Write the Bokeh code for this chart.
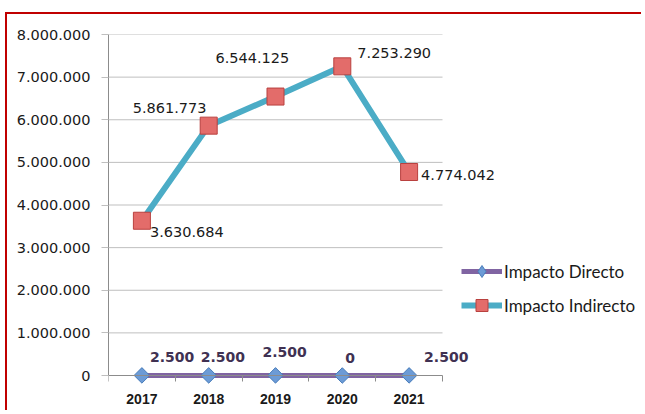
from bokeh.plotting import figure
from bokeh.models import ColumnDataSource, Range1d, FixedTicker, Legend, LegendItem, LinearAxis
from bokeh.core.properties import value
from bokeh.embed import file_html
from bokeh.resources import INLINE
import numpy as np

# ---- data ----
years = ["2017", "2018", "2019", "2020", "2021"]
directo = [2500, 2500, 2500, 0, 2500]
indirecto = [3630684, 5861773, 6544125, 7253290, 4774042]
y_ticks = [0, 1000000, 2000000, 3000000, 4000000, 5000000, 6000000, 7000000, 8000000]
series_names = ["Impacto Directo", "Impacto Indirecto"]


def fmt(v):
    return f"{v:,}".replace(",", ".")


xs = list(range(len(years)))
x_lo, x_hi = -0.5, len(years) - 0.5

# layout (screen px)
W, H = 636, 398
B_LEFT, B_TOP = 101, 20
PLOT_H = 341          # pixels from 0 to top tick
PAD = 12              # extra frame below the zero line so markers are not clipped
B_BOTTOM = H - B_TOP - PLOT_H - PAD
CAT_PX = 66.8
frame_w = W - B_LEFT
x_end = x_lo + frame_w / CAT_PX
y_top = y_ticks[-1]
y_start = y_ticks[0] - PAD * (y_top - y_ticks[0]) / PLOT_H

# label offsets (styling, screen px: left edge / vertical centre relative to point)
dir_dx = [8, -8, -13, 3, 15]
dir_dy = [-18, -18, -23, -18, -18]
ind_dx = [8, -76, -60, 15, 12]
ind_dy = [11, -18, -39, -13, 3]

src_d = ColumnDataSource(dict(x=xs, y=directo, t=[fmt(v) for v in directo], dx=dir_dx, dy=dir_dy))
src_i = ColumnDataSource(dict(x=xs, y=indirecto, t=[fmt(v) for v in indirecto], dx=ind_dx, dy=ind_dy))

p = figure(width=W, height=H, output_backend="svg", toolbar_location=None,
           x_range=Range1d(x_lo, x_end), y_range=Range1d(y_start, y_top),
           min_border_left=B_LEFT, min_border_right=0, min_border_top=B_TOP,
           min_border_bottom=B_BOTTOM)
p.styles = {"border-left": "2px solid #C00000", "border-top": "2px solid #C00000",
            "margin-left": "5px", "margin-top": "12px"}
p.outline_line_color = None
p.background_fill_color = "white"
p.border_fill_color = "white"
p.xgrid.grid_line_color = None
p.ygrid.grid_line_color = None

# horizontal gridlines limited to the category area
grid_y = [t for t in y_ticks if t > 0]
p.segment(x0=[x_lo] * len(grid_y), x1=[x_hi] * len(grid_y), y0=grid_y, y1=grid_y,
          line_color="#BFBFBF", line_width=1)

# y axis
p.yaxis.bounds = (y_ticks[0], y_top)
p.yaxis.ticker = FixedTicker(ticks=y_ticks)
p.yaxis.major_label_overrides = {t: fmt(t) for t in y_ticks}
p.yaxis.axis_line_color = "#8C8C8C"
p.yaxis.major_tick_line_color = "#BFBFBF"
p.yaxis.major_tick_out = 7
p.yaxis.major_tick_in = 0
p.yaxis.minor_tick_line_color = None
p.yaxis.major_label_standoff = 11
p.yaxis.major_label_text_font = "DejaVu Sans"
p.yaxis.major_label_text_font_size = "14.5px"
p.yaxis.major_label_text_color = "#1A1A1A"

# x axis labels (bottom panel)
p.xaxis.ticker = FixedTicker(ticks=xs)
p.xaxis.major_label_overrides = {i: y for i, y in enumerate(years)}
p.xaxis.axis_line_color = None
p.xaxis.major_tick_line_color = None
p.xaxis.minor_tick_line_color = None
p.xaxis.major_tick_out = 0
p.xaxis.major_tick_in = 0
p.xaxis.major_label_standoff = 6
p.xaxis.major_label_text_font = "Liberation Sans"
p.xaxis.major_label_text_font_style = "bold"
p.xaxis.major_label_text_font_size = "14px"
p.xaxis.major_label_text_color = "#1A1A1A"

# x axis line + category boundary ticks on the zero line
zero_axis = LinearAxis(fixed_location=0, bounds=(x_lo, x_hi),
                       ticker=FixedTicker(ticks=xs, minor_ticks=[i - 0.5 for i in range(len(years) + 1)]),
                       axis_line_color="#8C8C8C", major_tick_line_color=None,
                       major_tick_out=0, major_tick_in=0,
                       minor_tick_line_color="#8C8C8C", minor_tick_out=6, minor_tick_in=0,
                       major_label_text_color=None, major_label_text_font_size="1px",
                       major_label_standoff=0)
p.add_layout(zero_axis, "below")

# series
l_i = p.line("x", "y", source=src_i, line_color="#4BACC6", line_width=6)
m_i = p.scatter("x", "y", source=src_i, marker="square", size=17,
                fill_color="#E36C6A", line_color="#B9413F", line_width=1)
l_d = p.line("x", "y", source=src_d, line_color="#8064A2", line_width=5)
# diamond glyph (used as legend swatch; sits under the rotated squares)
m_d_leg = p.scatter("x", "y", source=src_d, marker="diamond", size=14,
                    fill_color="#6C9BD6", line_color="#4A7EBB", line_width=1)
m_d = p.scatter("x", "y", source=src_d, marker="square", angle=np.pi / 4, size=11,
                fill_color="#6C9BD6", line_color="#4A7EBB", line_width=1)

p.text("x", "y", text="t", source=src_i, x_offset="dx", y_offset="dy",
       text_align="left", text_baseline="middle", text_font=value("DejaVu Sans"),
       text_font_size="14.5px", text_color="#1A1A1A")
p.text("x", "y", text="t", source=src_d, x_offset="dx", y_offset="dy",
       text_align="left", text_baseline="middle", text_font=value("DejaVu Sans"),
       text_font_style="bold", text_font_size="14px", text_color="#403152")

legend = Legend(items=[LegendItem(label=series_names[0], renderers=[l_d, m_d_leg]),
                       LegendItem(label=series_names[1], renderers=[l_i, m_i])],
                location=(353, 55 + PAD), orientation="vertical")
legend.glyph_width = 41
legend.glyph_height = 30
legend.label_height = 30
legend.spacing = 4
legend.padding = 0
legend.margin = 0
legend.label_standoff = 2
legend.border_line_color = None
legend.background_fill_alpha = 0
legend.label_text_font = "Lato"
legend.label_text_font_size = "17px"
legend.label_text_color = "#1A1A1A"
p.add_layout(legend, "center")

open("out.html", "w").write(file_html(p, INLINE))
